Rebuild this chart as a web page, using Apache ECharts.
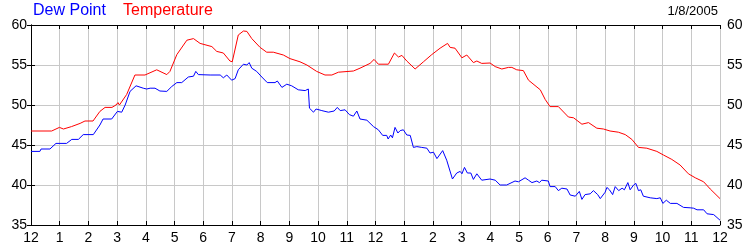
<!DOCTYPE html>
<html>
<head>
<meta charset="utf-8">
<script src="https://cdn.jsdelivr.net/npm/echarts@6/dist/echarts.min.js"></script>
<style>
html,body{margin:0;padding:0;background:#fff;}
#chart{width:750px;height:250px;}
</style>
</head>
<body>
<div id="chart"></div>
<script>
// Hours since midnight (0..24) and readings
const tempHours = [0.00,0.72,0.99,1.13,1.41,1.71,1.88,2.16,2.40,2.58,2.82,2.96,3.03,3.08,3.33,3.62,3.97,4.38,4.73,4.84,5.08,5.43,5.66,5.89,6.30,6.47,6.70,6.93,7.01,7.22,7.40,7.52,7.69,7.98,8.21,8.44,8.79,9.02,9.37,9.61,9.95,10.24,10.48,10.71,11.23,11.46,11.81,11.95,12.10,12.45,12.66,12.80,12.92,13.09,13.38,13.67,13.96,14.25,14.51,14.60,14.77,15.01,15.18,15.41,15.53,15.70,15.99,16.17,16.40,16.63,16.75,16.92,17.15,17.33,17.74,17.91,18.08,18.37,18.72,18.90,19.19,19.42,19.71,19.94,20.17,20.46,20.70,20.93,21.16,21.45,21.80,22.03,22.32,22.61,22.90,23.14,23.43,23.66,24.00];
const tempValues = [46.75,46.75,47.2,47.0,47.3,47.7,48.0,48.0,49.2,49.7,49.7,50.0,50.3,50.0,51.3,53.75,53.75,54.4,53.8,54.2,56.3,58.1,58.3,57.7,57.3,56.7,56.5,55.5,55.4,58.75,59.25,59.2,58.3,57.2,56.6,56.6,56.25,55.8,55.4,55.0,54.2,53.75,53.75,54.1,54.25,54.6,55.2,55.7,55.1,55.1,56.5,56.0,56.2,55.5,54.5,55.4,56.3,57.1,57.7,57.2,57.1,55.9,56.25,55.3,55.5,55.2,55.25,54.8,54.5,54.7,54.7,54.4,54.3,53.1,51.9,50.7,49.8,49.8,48.5,48.4,47.6,47.8,47.1,47.0,46.75,46.6,46.3,45.7,44.7,44.6,44.2,43.75,43.2,42.5,41.4,40.9,40.4,39.5,38.3];

const dewHours = [0.00,0.31,0.35,0.66,0.87,1.24,1.42,1.65,1.82,2.17,2.40,2.51,2.81,3.01,3.16,3.28,3.45,3.66,3.91,4.03,4.15,4.32,4.49,4.73,4.90,5.08,5.25,5.48,5.66,5.74,5.83,6.24,6.59,6.70,6.82,6.99,7.11,7.22,7.40,7.52,7.60,7.69,7.86,8.04,8.23,8.50,8.58,8.74,8.91,9.08,9.31,9.55,9.66,9.70,9.84,9.93,10.13,10.36,10.56,10.67,10.77,10.94,11.09,11.23,11.35,11.46,11.70,11.93,12.10,12.25,12.39,12.44,12.53,12.59,12.68,12.78,12.86,12.97,13.09,13.21,13.32,13.44,13.61,13.79,13.90,14.02,14.14,14.34,14.48,14.68,14.83,14.95,15.01,15.10,15.20,15.32,15.41,15.53,15.70,15.99,16.17,16.34,16.57,16.86,16.98,17.21,17.33,17.45,17.62,17.71,17.79,18.02,18.08,18.26,18.37,18.49,18.67,18.78,18.96,19.10,19.19,19.30,19.48,19.59,19.74,19.83,20.00,20.06,20.15,20.26,20.35,20.47,20.59,20.67,20.79,20.87,20.99,21.07,21.16,21.24,21.33,21.57,21.80,21.92,22.01,22.13,22.27,22.50,22.73,22.96,23.08,23.20,23.43,23.55,23.78,24.00];
const dewValues = [44.2,44.2,44.5,44.5,45.2,45.2,45.7,45.7,46.3,46.3,47.5,48.25,48.25,49.2,49.1,50.0,51.7,52.4,52.1,52.0,52.1,52.1,51.75,51.7,52.3,52.8,52.8,53.5,53.6,54.2,53.8,53.75,53.75,53.4,53.75,53.1,53.3,54.4,55.1,55.0,55.3,54.6,54.2,53.5,52.8,52.8,53.0,52.2,52.6,52.4,51.9,51.8,52.0,49.6,49.1,49.5,49.3,49.1,49.25,49.7,49.3,49.4,48.8,48.6,49.25,48.25,48.1,47.3,46.9,46.2,46.2,45.75,46.25,45.9,47.2,46.5,46.8,46.9,46.25,46.2,44.7,44.8,44.7,44.6,44.0,44.1,43.3,44.3,43.1,40.75,41.5,41.7,41.4,42.2,41.5,41.5,40.7,41.4,40.6,40.75,40.6,40.0,40.0,40.5,40.4,40.9,40.6,40.3,40.5,40.3,40.6,40.5,39.8,39.8,39.3,39.6,39.5,38.75,38.6,39.2,38.2,38.8,38.9,39.3,38.8,38.3,39.1,39.7,39.4,38.8,39.8,39.3,39.6,39.4,40.3,39.4,40.0,40.2,39.3,39.4,38.6,38.4,38.3,38.4,37.7,38.1,37.7,37.7,37.2,37.15,37.1,36.9,36.9,36.4,36.3,35.6];

const hourLabels = ['12','1','2','3','4','5','6','7','8','9','10','11','12','1','2','3','4','5','6','7','8','9','10','11','12'];
const yMin = 35, yMax = 60, yStep = 5;
const seriesNames = ['Dew Point', 'Temperature'];
const dateLabel = '1/8/2005';

const pairs = (xs, ys) => xs.map((x, i) => [x, ys[i]]);
const font = 'Liberation Sans, Arial, sans-serif';

const chart = echarts.init(document.getElementById('chart'), null, {renderer: 'canvas'});
chart.setOption({
  animation: false,
  backgroundColor: '#ffffff',
  grid: {left: 31, right: 30, top: 25, bottom: 25, containLabel: false},
  xAxis: [{
    type: 'value', min: 0, max: 24, interval: 1, position: 'bottom',
    axisLine: {show: true, lineStyle: {color: '#000', width: 1}},
    axisTick: {show: true, inside: true, length: 4, lineStyle: {color: '#000'}},
    axisLabel: {show: true, margin: 6, color: '#000', fontSize: 14, fontFamily: font,
      formatter: v => hourLabels[Math.round(v)]},
    splitLine: {show: true, lineStyle: {color: '#c8c8c8', width: 1}}
  }, {
    type: 'value', min: 0, max: 24, interval: 1, position: 'top',
    axisLine: {show: true, lineStyle: {color: '#000', width: 1}},
    axisTick: {show: true, inside: true, length: 4, lineStyle: {color: '#000'}},
    axisLabel: {show: false},
    splitLine: {show: false}
  }],
  yAxis: [{
    type: 'value', min: yMin, max: yMax, interval: yStep, position: 'left',
    axisLine: {show: true, lineStyle: {color: '#000', width: 1}},
    axisTick: {show: true, inside: true, length: 4, lineStyle: {color: '#000'}},
    axisLabel: {show: true, margin: 4, color: '#000', fontSize: 14, fontFamily: font},
    splitLine: {show: true, lineStyle: {color: '#c8c8c8', width: 1}}
  }, {
    type: 'value', min: yMin, max: yMax, interval: yStep, position: 'right',
    axisLine: {show: true, lineStyle: {color: '#000', width: 1}},
    axisTick: {show: true, inside: true, length: 4, lineStyle: {color: '#000'}},
    axisLabel: {show: true, margin: 7, color: '#000', fontSize: 14, fontFamily: font},
    splitLine: {show: false}
  }],
  graphic: [
    {type: 'text', left: 33, top: 3, style: {text: seriesNames[0], fill: '#0000ff', font: '16px ' + font}},
    {type: 'text', left: 123, top: 3, style: {text: seriesNames[1], fill: '#ff0000', font: '16px ' + font}},
    {type: 'text', right: 32, top: 5, style: {text: dateLabel, fill: '#000', font: '13px ' + font}}
  ],
  series: [{
    name: seriesNames[0], type: 'line', xAxisIndex: 0, yAxisIndex: 0,
    data: pairs(dewHours, dewValues), showSymbol: false, symbol: 'none',
    lineStyle: {color: '#0000ff', width: 1}, z: 3
  }, {
    name: seriesNames[1], type: 'line', xAxisIndex: 0, yAxisIndex: 0,
    data: pairs(tempHours, tempValues), showSymbol: false, symbol: 'none',
    lineStyle: {color: '#ff0000', width: 1}, z: 3
  }]
});
</script>
</body>
</html>
